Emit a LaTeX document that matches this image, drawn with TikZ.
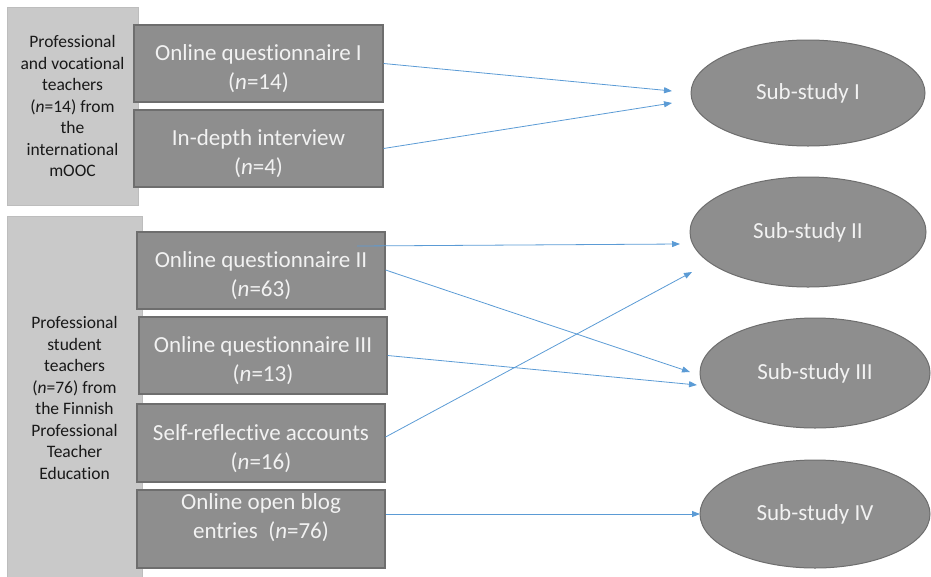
\documentclass[tikz,border=0pt]{standalone}
\usepackage{fontspec}
\setmainfont{Carlito}[Ligatures=NoCommon]
\usetikzlibrary{arrows.meta,shapes.geometric}
\definecolor{lightbox}{HTML}{C9C9C9}
\definecolor{lightline}{HTML}{BDBDBD}
\definecolor{darkbox}{HTML}{8E8E8E}
\definecolor{darkline}{HTML}{6E6E6E}
\definecolor{boxtext}{HTML}{F2F2F2}
\definecolor{linkblue}{HTML}{5B9BD5}
\newcommand{\toppad}{\rule{0pt}{27pt}}
\tikzset{
  groupbox/.style={rectangle, fill=lightbox, draw=lightline, line width=0.6pt,
    align=center, text=black!90, font=\fontsize{17.5}{21.5}\selectfont, inner sep=0pt},
  methodbox/.style={rectangle, fill=darkbox, draw=darkline, line width=1.1pt,
    align=center, text=boxtext, font=\fontsize{23}{29}\selectfont, inner sep=0pt},
  studyell/.style={ellipse, fill=darkbox, draw=darkline, line width=1pt,
    text=boxtext, font=\fontsize{23}{28}\selectfont, inner sep=0pt},
  link/.style={draw=linkblue, line width=0.8pt, -{Triangle[length=8pt,width=6pt]}}
}
\begin{document}
\begin{tikzpicture}[x=1pt,y=-1pt]
\useasboundingbox (0,0) rectangle (931,576);
% group boxes
\node[groupbox, minimum width=131pt, minimum height=198pt] (ga) at (72.5,106)
  {Professional\\and vocational\\teachers\\(\textit{n}=14) from\\the\\international\\mOOC};
\node[groupbox, minimum width=135pt, minimum height=364pt] (gb) at (74.5,398)
  {Professional\\student\\teachers\\(\textit{n}=76) from\\the Finnish\\Professional\\Teacher\\Education};
% method boxes
\node[methodbox, minimum width=249pt, minimum height=77pt] (q1) at (258.5,63.5)
  {\toppad Online questionnaire I\\(\textit{n}=14)};
\node[methodbox, minimum width=249pt, minimum height=77pt] (iv) at (258.5,148.5)
  {\toppad In-depth interview\\(\textit{n}=4)};
\node[methodbox, minimum width=248pt, minimum height=77pt] (q2) at (261,270.5)
  {\toppad Online questionnaire II\\(\textit{n}=63)};
\node[methodbox, minimum width=248pt, minimum height=77pt] (q3) at (263,355.5)
  {\toppad Online questionnaire III\\(\textit{n}=13)};
\node[methodbox, minimum width=248pt, minimum height=78pt] (sr) at (261,443)
  {\toppad Self-reflective accounts\\(\textit{n}=16)};
\node[methodbox, minimum width=248pt, minimum height=78pt] (bl) at (261,529)
  {Online open blog\\entries~~(\textit{n}=76)\rule[-26pt]{0pt}{0pt}};
% studies
\node[studyell, minimum width=234pt, minimum height=106pt] (s1) at (808,93) {\raisebox{-2pt}{Sub-study I}};
\node[studyell, minimum width=236pt, minimum height=110pt] (s2) at (808,232) {\raisebox{-2pt}{Sub-study II}};
\node[studyell, minimum width=230pt, minimum height=110pt] (s3) at (815,373) {\raisebox{-2pt}{Sub-study III}};
\node[studyell, minimum width=230pt, minimum height=108pt] (s4) at (815,514) {\raisebox{-2pt}{Sub-study IV}};
% arrow end points
\coordinate (e1a) at (672,91);
\coordinate (e1b) at (672,103);
\coordinate (e2a) at (680,244);
\coordinate (e2b) at (692,272);
\coordinate (e3a) at (690,372);
\coordinate (e3b) at (697,385);
\coordinate (e4) at (700,514);
\coordinate (q2s) at (357,246);
% connectors
\draw[link] (q1.east) -- (e1a);
\draw[link] (iv.east) -- (e1b);
\draw[link] (q2s) -- (e2a);
\draw[link] ([yshift=0.5pt]q2.east) -- (e3a);
\draw[link] (q3.east) -- (e3b);
\draw[link] ([yshift=6pt]sr.east) -- (e2b);
\draw[link] ([yshift=15pt]bl.east) -- (e4);
\end{tikzpicture}
\end{document}
